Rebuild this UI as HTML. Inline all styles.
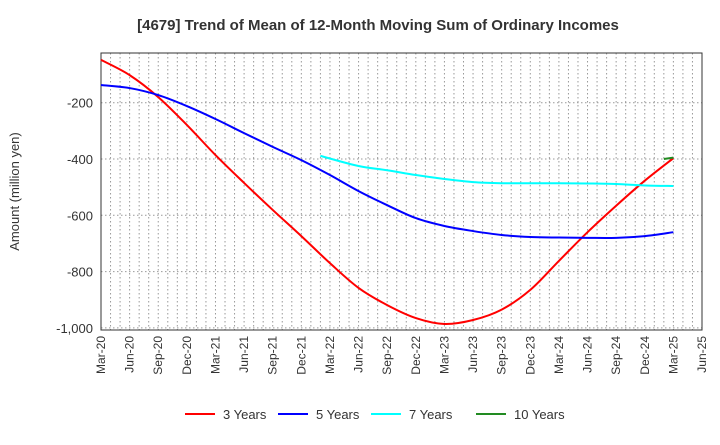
<!DOCTYPE html>
<html><head><meta charset="utf-8"><style>
body{margin:0;background:#fff;font-family:"Liberation Sans",sans-serif}
</style></head><body>
<svg width="720" height="440" xmlns="http://www.w3.org/2000/svg" font-family="Liberation Sans, sans-serif">
<text x="378" y="30" text-anchor="middle" font-size="15" font-weight="bold" fill="#333">[4679]  Trend of Mean of 12-Month Moving Sum of Ordinary Incomes</text>
<g id="grid"></g>
<g id="axes"></g>
<g id="series"></g>
<g id="legend"></g>
</svg>
<script>
const xLabels=["Mar-20","Jun-20","Sep-20","Dec-20","Mar-21","Jun-21","Sep-21","Dec-21","Mar-22","Jun-22","Sep-22","Dec-22","Mar-23","Jun-23","Sep-23","Dec-23","Mar-24","Jun-24","Sep-24","Dec-24","Mar-25","Jun-25"];
const yTicks=[-200,-400,-600,-800,-1000];
const yTickLabels=["-200","-400","-600","-800","-1,000"];
// quarterly months index (0 = Mar-20)
const m3=[0,3,6,9,12,15,18,21,24,27,30,33,36,39,42,45,48,51,54,57,60];
const s3=[-48,-102,-180,-279,-386,-485,-581,-674,-770,-858,-919,-965,-986,-972,-935,-865,-762,-660,-566,-477,-397];
const s5=[-137,-148,-173,-212,-258,-308,-357,-404,-457,-514,-564,-610,-638,-656,-670,-677,-679,-680,-680,-674,-660];
const m7=[23,27,30,33,36,39,42,45,48,51,54,57,60];
const s7=[-389,-425,-440,-457,-471,-482,-486,-486,-486,-487,-489,-494,-496];
const m10=[59,60];
const s10=[-400,-395];
const names=["3 Years","5 Years","7 Years","10 Years"];
const colors=["#ff0000","#0000ff","#00ffff","#228b22"];

const L=101,R=702,T=53,B=330;
const X=m=>L+m*(R-L)/63;
const Y=v=>102.7+(-200-v)*0.2815;
const NS="http://www.w3.org/2000/svg";
function mk(tag,attrs,parent){const e=document.createElementNS(NS,tag);for(const k in attrs)e.setAttribute(k,attrs[k]);parent.appendChild(e);return e;}
const grid=document.getElementById('grid'),axes=document.getElementById('axes'),ser=document.getElementById('series'),leg=document.getElementById('legend');
for(let m=1;m<63;m++){const l=mk('line',{x1:X(m),x2:X(m),y1:T,y2:B,stroke:'#999','stroke-dasharray':'1.5,2.5','stroke-width':1},grid);

}
yTicks.forEach((v,i)=>{const l=mk('line',{x1:L,x2:R,y1:Y(v),y2:Y(v),stroke:'#999','stroke-dasharray':'1.5,2.5'},grid);


const t=mk('text',{x:L-8,y:Y(v)+5,'text-anchor':'end','font-size':13,fill:'#333'},axes);t.textContent=yTickLabels[i];

});
xLabels.forEach((s,i)=>{const x=X(i*3);const t=mk('text',{x:0,y:0,'text-anchor':'end','font-size':12,fill:'#333',transform:`translate(${x+4},${B+6}) rotate(-90)`},axes);t.textContent=s;

});
const fr=mk('rect',{x:L,y:T,width:R-L,height:B-T,fill:'none',stroke:'#333','stroke-width':1},axes);


const yt=mk('text',{x:0,y:0,'text-anchor':'middle','font-size':13,fill:'#333',transform:`translate(19,${(T+B)/2}) rotate(-90)`},axes);yt.textContent='Amount (million yen)';


function path(ms,vs){const p=ms.map((m,i)=>[X(m),Y(vs[i])]);if(p.length<3)return 'M'+p.map(q=>q.join(',')).join('L');
let d='M'+p[0].join(',');for(let i=0;i<p.length-1;i++){const p0=p[i-1]||p[i],p1=p[i],p2=p[i+1],p3=p[i+2]||p2;
d+=`C${p1[0]+(p2[0]-p0[0])/6},${p1[1]+(p2[1]-p0[1])/6} ${p2[0]-(p3[0]-p1[0])/6},${p2[1]-(p3[1]-p1[1])/6} ${p2[0]},${p2[1]}`;}return d;}
const all=[[m3,s3],[m3,s5],[m7,s7],[m10,s10]];
const snames=['series-3-years','series-5-years','series-7-years','series-10-years'];
all.forEach((a,i)=>{const e=mk('path',{d:path(a[0],a[1]),fill:'none',stroke:colors[i],'stroke-width':2},ser);

});
const lx=[185,278,371,476];
names.forEach((n,i)=>{const g=mk('g',{},leg);


mk('line',{x1:lx[i],x2:lx[i]+30,y1:414,y2:414,stroke:colors[i],'stroke-width':2},g);
const t=mk('text',{x:lx[i]+38,y:419,'font-size':13,fill:'#333'},g);t.textContent=n;});
</script>
</body></html>
